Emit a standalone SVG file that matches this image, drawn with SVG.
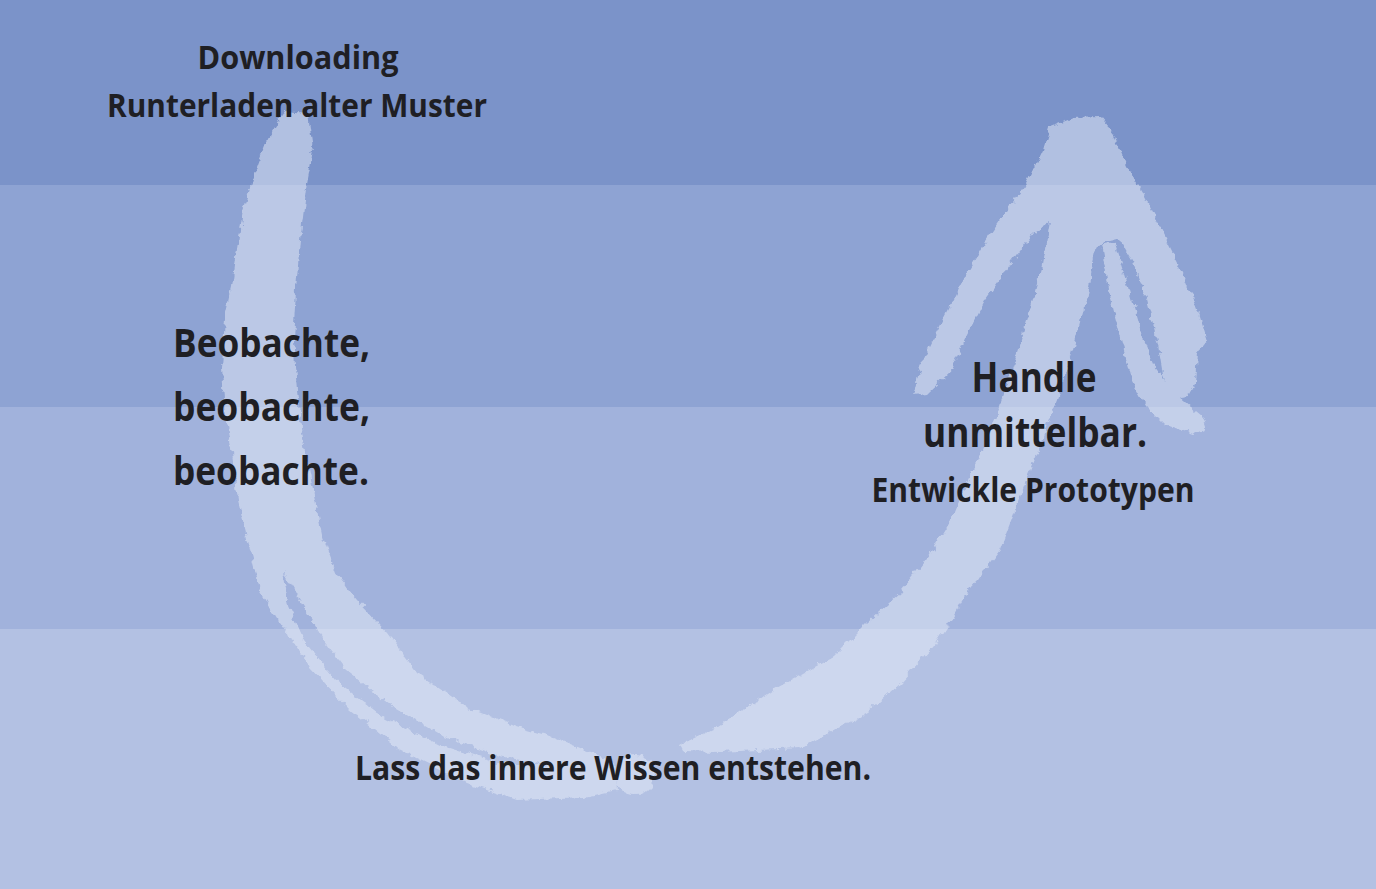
<svg xmlns="http://www.w3.org/2000/svg" width="1376" height="889" viewBox="0 0 1376 889">
<style>
.t{font-family:"Open Sans",Lato,"DejaVu Sans",sans-serif;font-weight:700;fill:#1f1f24}
.s{fill:#e8eef9}
</style>
<defs>
<filter id="rough" x="-5%" y="-5%" width="110%" height="110%">
<feTurbulence type="fractalNoise" baseFrequency="0.12" numOctaves="3" seed="4" result="n"/>
<feDisplacementMap in="SourceGraphic" in2="n" scale="8" xChannelSelector="R" yChannelSelector="G"/>
</filter>
</defs>
<g id="background">
<rect x="0" y="0" width="1376" height="185" fill="#7b93c9"/>
<rect x="0" y="185" width="1376" height="222" fill="#8ea3d3"/>
<rect x="0" y="407" width="1376" height="222" fill="#a1b2dc"/>
<rect x="0" y="629" width="1376" height="260" fill="#b3c1e3"/>
</g>
<g id="connectors" opacity="0.5" filter="url(#rough)">
<path class="s" fill-rule="evenodd" d="M285,112 L308,114 L313,150 L306,190 L300,240 L296,290 L293,340 L297,390 L303,435 L312,485 L322,535 L337,575 L357,600 L387,633 L417,673 L467,707 L517,727 L553,737 L590,752 L615,762 L617,790 L583,797 L517,800 L467,783 L400,750 L350,710 L310,667 L280,623 L260,590 L250,550 L238,500 L232,453 L225,417 L222,367 L225,317 L232,287 L237,250 L243,210 L252,183 L257,167 L267,140 L278,122 Z M283,572 L300,600 L320,635 L345,668 L390,705 L440,735 L500,756 L550,766 L500,763 L440,745 L385,718 L335,680 L305,642 L289,606 Z"/>
<circle class="s" cx="635" cy="775" r="20"/>
<path class="s" d="M680,745 L717,727 L773,690 L833,657 L867,623 L900,593 L933,550 L953,517 L967,483 L983,450 L1000,405 L1015,360 L1030,310 L1042,265 L1050,222 L1033,233 L1010,265 L985,300 L967,335 L950,372 L928,393 L913,395 L920,367 L933,340 L950,307 L967,273 L987,240 L1007,210 L1027,183 L1043,150 L1050,127 L1073,118 L1100,117 L1113,133 L1127,167 L1143,193 L1163,233 L1183,273 L1200,317 L1207,340 L1197,353 L1195,383 L1188,396 L1172,398 L1163,375 L1158,345 L1147,300 L1133,262 L1119,238 L1110,240 L1098,245 L1092,270 L1086,300 L1073,350 L1057,400 L1035,458 L1015,510 L1000,550 L985,570 L967,592 L953,617 L933,647 L900,683 L867,713 L800,748 L720,752 L683,751 Z"/>
<path class="s" d="M1101,245 L1114,242 L1128,287 L1141,333 L1154,365 L1173,392 L1202,416 L1206,428 L1193,434 L1165,425 L1145,405 L1133,383 L1124,350 L1111,300 Z"/>
</g>
<g id="downloading">
<text class="t" x="298" y="69" font-size="33" text-anchor="middle" textLength="201" lengthAdjust="spacingAndGlyphs">Downloading</text>
<text class="t" x="297" y="117" font-size="33" text-anchor="middle" textLength="380" lengthAdjust="spacingAndGlyphs">Runterladen alter Muster</text>
</g>
<g id="beobachte">
<text class="t" x="173" y="357" font-size="40" textLength="197" lengthAdjust="spacingAndGlyphs">Beobachte,</text>
<text class="t" x="173" y="421" font-size="40" textLength="197" lengthAdjust="spacingAndGlyphs">beobachte,</text>
<text class="t" x="173" y="485" font-size="40" textLength="196" lengthAdjust="spacingAndGlyphs">beobachte.</text>
</g>
<g id="handle">
<text class="t" x="1034" y="392" font-size="41" text-anchor="middle" textLength="125" lengthAdjust="spacingAndGlyphs">Handle</text>
<text class="t" x="1035" y="447" font-size="41" text-anchor="middle" textLength="224" lengthAdjust="spacingAndGlyphs">unmittelbar.</text>
<text class="t" x="1033" y="502" font-size="34" text-anchor="middle" textLength="323" lengthAdjust="spacingAndGlyphs">Entwickle Prototypen</text>
</g>
<g id="wissen">
<text class="t" x="613" y="780" font-size="34" text-anchor="middle" textLength="516" lengthAdjust="spacingAndGlyphs">Lass das innere Wissen entstehen.</text>
</g>
</svg>
